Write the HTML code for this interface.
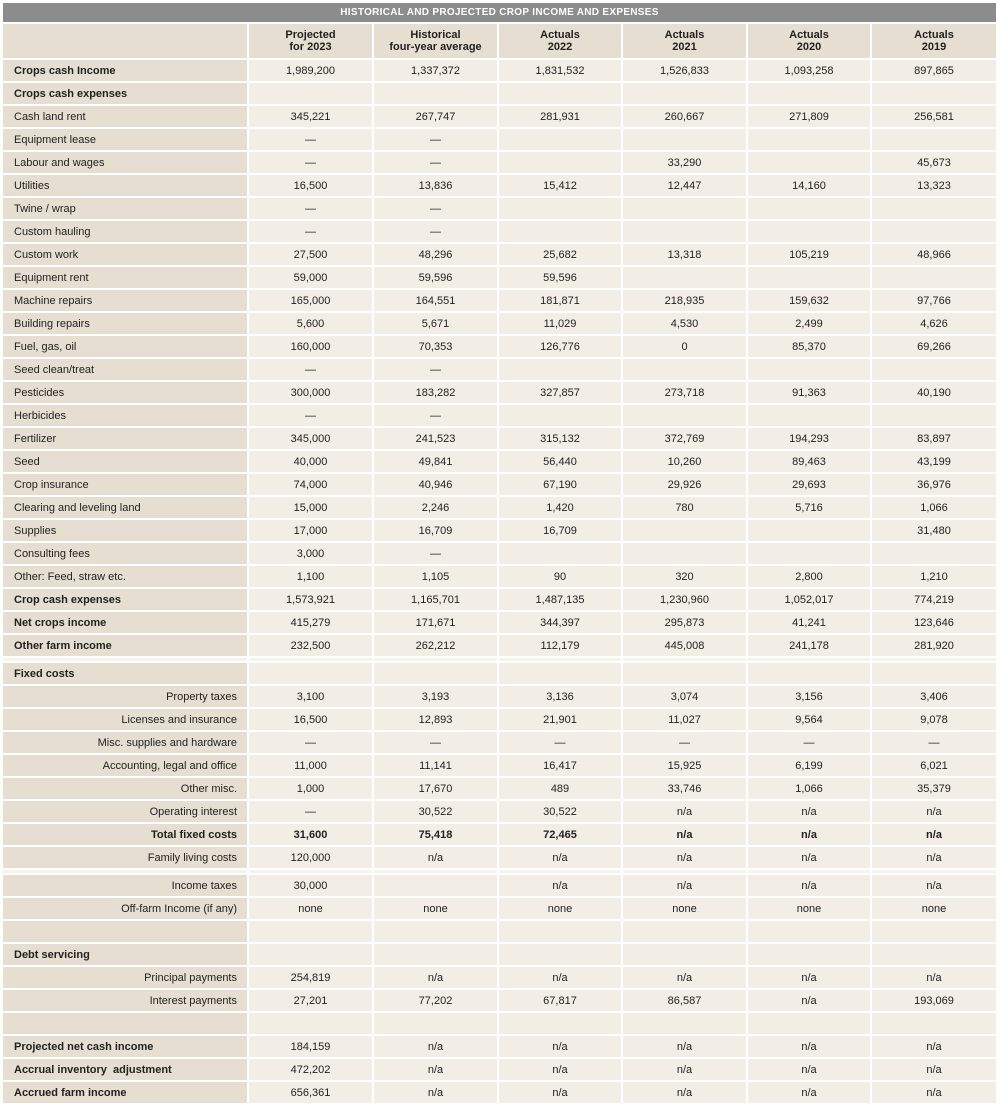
<!DOCTYPE html>
<html><head><meta charset="utf-8"><style>
body{margin:0;background:#fff;width:1000px;height:1103px;overflow:hidden}
table{position:absolute;left:1px;top:1px;border-collapse:separate;border-spacing:2px;table-layout:fixed;font-family:"Liberation Sans",sans-serif;font-size:11px;color:#222}
td{height:21px;padding:0;background:#f2eee6;text-align:center;white-space:nowrap;overflow:hidden}
td:first-child{background:#e6dfd1;text-align:left;padding-left:11px}
td.r{text-align:right;padding-right:10px;padding-left:0}
tr.b td{font-weight:bold}
tr.t td{background:#8c8c8c;color:#fff;font-weight:bold;height:19px;font-size:10px;text-align:center;padding:0;letter-spacing:0.3px}
tr.h td{background:#e6dfd1;height:34px;font-weight:bold;line-height:12px}
tr.g td{height:3px;background:#f6f3ec}
</style></head><body>
<table>
<colgroup><col style="width:244px"><col style="width:123px"><col style="width:123px"><col style="width:122px"><col style="width:123px"><col style="width:122px"><col style="width:124px"></colgroup>
<tr class="t"><td colspan="7">HISTORICAL AND PROJECTED CROP INCOME AND EXPENSES</td></tr>
<tr class="h"><td></td><td>Projected<br>for 2023</td><td>Historical<br>four-year average</td><td>Actuals<br>2022</td><td>Actuals<br>2021</td><td>Actuals<br>2020</td><td>Actuals<br>2019</td></tr>
<tr><td><b>Crops cash Income</b></td><td>1,989,200</td><td>1,337,372</td><td>1,831,532</td><td>1,526,833</td><td>1,093,258</td><td>897,865</td></tr>
<tr><td><b>Crops cash expenses</b></td><td></td><td></td><td></td><td></td><td></td><td></td></tr>
<tr><td>Cash land rent</td><td>345,221</td><td>267,747</td><td>281,931</td><td>260,667</td><td>271,809</td><td>256,581</td></tr>
<tr><td>Equipment lease</td><td>—</td><td>—</td><td></td><td></td><td></td><td></td></tr>
<tr><td>Labour and wages</td><td>—</td><td>—</td><td></td><td>33,290</td><td></td><td>45,673</td></tr>
<tr><td>Utilities</td><td>16,500</td><td>13,836</td><td>15,412</td><td>12,447</td><td>14,160</td><td>13,323</td></tr>
<tr><td>Twine / wrap</td><td>—</td><td>—</td><td></td><td></td><td></td><td></td></tr>
<tr><td>Custom hauling</td><td>—</td><td>—</td><td></td><td></td><td></td><td></td></tr>
<tr><td>Custom work</td><td>27,500</td><td>48,296</td><td>25,682</td><td>13,318</td><td>105,219</td><td>48,966</td></tr>
<tr><td>Equipment rent</td><td>59,000</td><td>59,596</td><td>59,596</td><td></td><td></td><td></td></tr>
<tr><td>Machine repairs</td><td>165,000</td><td>164,551</td><td>181,871</td><td>218,935</td><td>159,632</td><td>97,766</td></tr>
<tr><td>Building repairs</td><td>5,600</td><td>5,671</td><td>11,029</td><td>4,530</td><td>2,499</td><td>4,626</td></tr>
<tr><td>Fuel, gas, oil</td><td>160,000</td><td>70,353</td><td>126,776</td><td>0</td><td>85,370</td><td>69,266</td></tr>
<tr><td>Seed clean/treat</td><td>—</td><td>—</td><td></td><td></td><td></td><td></td></tr>
<tr><td>Pesticides</td><td>300,000</td><td>183,282</td><td>327,857</td><td>273,718</td><td>91,363</td><td>40,190</td></tr>
<tr><td>Herbicides</td><td>—</td><td>—</td><td></td><td></td><td></td><td></td></tr>
<tr><td>Fertilizer</td><td>345,000</td><td>241,523</td><td>315,132</td><td>372,769</td><td>194,293</td><td>83,897</td></tr>
<tr><td>Seed</td><td>40,000</td><td>49,841</td><td>56,440</td><td>10,260</td><td>89,463</td><td>43,199</td></tr>
<tr><td>Crop insurance</td><td>74,000</td><td>40,946</td><td>67,190</td><td>29,926</td><td>29,693</td><td>36,976</td></tr>
<tr><td>Clearing and leveling land</td><td>15,000</td><td>2,246</td><td>1,420</td><td>780</td><td>5,716</td><td>1,066</td></tr>
<tr><td>Supplies</td><td>17,000</td><td>16,709</td><td>16,709</td><td></td><td></td><td>31,480</td></tr>
<tr><td>Consulting fees</td><td>3,000</td><td>—</td><td></td><td></td><td></td><td></td></tr>
<tr><td>Other: Feed, straw etc.</td><td>1,100</td><td>1,105</td><td>90</td><td>320</td><td>2,800</td><td>1,210</td></tr>
<tr><td><b>Crop cash expenses</b></td><td>1,573,921</td><td>1,165,701</td><td>1,487,135</td><td>1,230,960</td><td>1,052,017</td><td>774,219</td></tr>
<tr><td><b>Net crops income</b></td><td>415,279</td><td>171,671</td><td>344,397</td><td>295,873</td><td>41,241</td><td>123,646</td></tr>
<tr><td><b>Other farm income</b></td><td>232,500</td><td>262,212</td><td>112,179</td><td>445,008</td><td>241,178</td><td>281,920</td></tr>
<tr class="g"><td></td><td></td><td></td><td></td><td></td><td></td><td></td></tr>
<tr><td><b>Fixed costs</b></td><td></td><td></td><td></td><td></td><td></td><td></td></tr>
<tr><td class="r">Property taxes</td><td>3,100</td><td>3,193</td><td>3,136</td><td>3,074</td><td>3,156</td><td>3,406</td></tr>
<tr><td class="r">Licenses and insurance</td><td>16,500</td><td>12,893</td><td>21,901</td><td>11,027</td><td>9,564</td><td>9,078</td></tr>
<tr><td class="r">Misc. supplies and hardware</td><td>—</td><td>—</td><td>—</td><td>—</td><td>—</td><td>—</td></tr>
<tr><td class="r">Accounting, legal and office</td><td>11,000</td><td>11,141</td><td>16,417</td><td>15,925</td><td>6,199</td><td>6,021</td></tr>
<tr><td class="r">Other misc.</td><td>1,000</td><td>17,670</td><td>489</td><td>33,746</td><td>1,066</td><td>35,379</td></tr>
<tr><td class="r">Operating interest</td><td>—</td><td>30,522</td><td>30,522</td><td>n/a</td><td>n/a</td><td>n/a</td></tr>
<tr class="b"><td class="r">Total fixed costs</td><td>31,600</td><td>75,418</td><td>72,465</td><td>n/a</td><td>n/a</td><td>n/a</td></tr>
<tr><td class="r">Family living costs</td><td>120,000</td><td>n/a</td><td>n/a</td><td>n/a</td><td>n/a</td><td>n/a</td></tr>
<tr class="g"><td></td><td></td><td></td><td></td><td></td><td></td><td></td></tr>
<tr><td class="r">Income taxes</td><td>30,000</td><td></td><td>n/a</td><td>n/a</td><td>n/a</td><td>n/a</td></tr>
<tr><td class="r">Off-farm Income (if any)</td><td>none</td><td>none</td><td>none</td><td>none</td><td>none</td><td>none</td></tr>
<tr><td></td><td></td><td></td><td></td><td></td><td></td><td></td></tr>
<tr><td><b>Debt servicing</b></td><td></td><td></td><td></td><td></td><td></td><td></td></tr>
<tr><td class="r">Principal payments</td><td>254,819</td><td>n/a</td><td>n/a</td><td>n/a</td><td>n/a</td><td>n/a</td></tr>
<tr><td class="r">Interest payments</td><td>27,201</td><td>77,202</td><td>67,817</td><td>86,587</td><td>n/a</td><td>193,069</td></tr>
<tr><td></td><td></td><td></td><td></td><td></td><td></td><td></td></tr>
<tr><td><b>Projected net cash income</b></td><td>184,159</td><td>n/a</td><td>n/a</td><td>n/a</td><td>n/a</td><td>n/a</td></tr>
<tr><td><b>Accrual inventory&nbsp; adjustment</b></td><td>472,202</td><td>n/a</td><td>n/a</td><td>n/a</td><td>n/a</td><td>n/a</td></tr>
<tr><td><b>Accrued farm income</b></td><td>656,361</td><td>n/a</td><td>n/a</td><td>n/a</td><td>n/a</td><td>n/a</td></tr>
</table>
</body></html>
